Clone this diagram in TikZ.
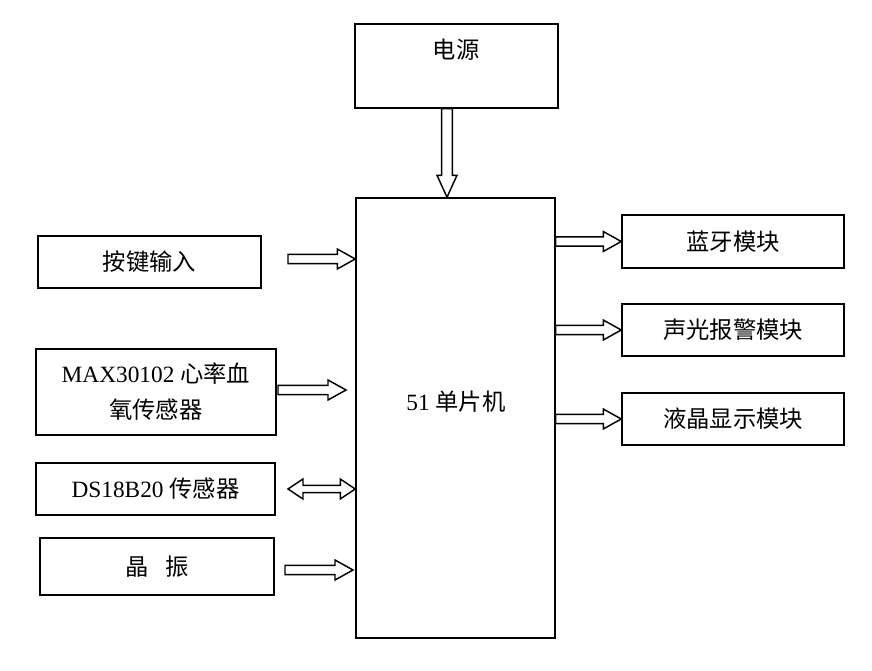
\documentclass[tikz,border=0pt]{standalone}
\usepackage{fontspec}
\setmainfont{Liberation Serif}
\newfontfamily\cjk{Noto Sans CJK SC}
\usetikzlibrary{calc}
\newcommand\rarrow[2]{\draw[blk] let \p1=(#1), \p2=(#2) in (\x1,\y1+3.4pt) -- (\x2-13.5pt,\y1+3.4pt) -- (\x2-13.5pt,\y1+7.5pt) -- (\x2,\y1) -- (\x2-13.5pt,\y1-7.5pt) -- (\x2-13.5pt,\y1-3.4pt) -- (\x1,\y1-3.4pt) -- cycle;}
\newcommand\darrow[2]{\draw[blk] let \p1=(#1), \p2=(#2) in (\x1-4.1pt,\y1) -- (\x1-4.1pt,\y2+16.5pt) -- (\x1-7.5pt,\y2+16.5pt) -- (\x1,\y2) -- (\x1+7.5pt,\y2+16.5pt) -- (\x1+4.1pt,\y2+16.5pt) -- (\x1+4.1pt,\y1) -- cycle;}
\newcommand\lrarrow[2]{\draw[blk] let \p1=(#1), \p2=(#2) in (\x1,\y1) -- (\x1+11.25pt,\y1+7.5pt) -- (\x1+11.25pt,\y1+2.7pt) -- (\x2-11.25pt,\y1+2.7pt) -- (\x2-11.25pt,\y1+7.5pt) -- (\x2,\y1) -- (\x2-11.25pt,\y1-7.5pt) -- (\x2-11.25pt,\y1-2.7pt) -- (\x1+11.25pt,\y1-2.7pt) -- (\x1+11.25pt,\y1-7.5pt) -- cycle;}
\begin{document}
\begin{tikzpicture}[x=0.75pt,y=-0.75pt, line width=1.1pt,
  box/.style={draw, rectangle, inner sep=0pt, font=\fontsize{17.5}{27}\selectfont, align=center},
  lbl/.style={font=\fontsize{17.5}{27}\selectfont, inner sep=0pt, align=center},
  blk/.style={draw, fill=white, line width=1.1pt, line join=miter}]
\useasboundingbox (0,0) rectangle (872,671);
\fill[white] (0,0) rectangle (872,671);
% boxes
\node[box, minimum width=152.25pt, minimum height=63pt] (pwr) at (456.5,66) {};
\node[lbl] (tpwr) at (456,50) {\cjk 电源};
\node[box, minimum width=149.25pt, minimum height=330pt] (mcu) at (455.5,418) {};
\node[lbl] (tmcu) at (456,402) {51 {\cjk 单片机}};
\node[box, minimum width=167.25pt, minimum height=39pt] (key) at (149.5,262) {\cjk 按键输入};
\node[box, minimum width=180pt, minimum height=64.5pt] (max) at (156,392) {MAX30102 {\cjk 心率血}\\{\cjk 氧传感器}};
\node[box, minimum width=179.25pt, minimum height=39pt] (ds) at (155.5,489) {DS18B20 {\cjk 传感器}};
\node[box, minimum width=175.5pt, minimum height=42.75pt] (xtal) at (157,566.5) {{\cjk 晶}\hspace{0.7em}{\cjk 振}};
\node[box, minimum width=166.5pt, minimum height=39.75pt] (bt) at (733,241.5) {\cjk 蓝牙模块};
\node[box, minimum width=166.5pt, minimum height=39pt] (alarm) at (733,330) {\cjk 声光报警模块};
\node[box, minimum width=166.5pt, minimum height=39pt] (lcd) at (733,419) {\cjk 液晶显示模块};
% arrow anchors
\coordinate (pa) at ($(pwr.south)+(-9.5,0)$);
\coordinate (pb) at (pa |- mcu.north);
\coordinate (ka) at (288,259);
\coordinate (kb) at (ka -| mcu.west);
\coordinate (ma) at (278,390);
\coordinate (mb) at (346,390);
\coordinate (da) at (288,489);
\coordinate (db) at (da -| mcu.west);
\coordinate (xa) at (285,570);
\coordinate (xb) at (353,570);
\coordinate (ba) at (mcu.east |- bt.west);
\coordinate (aa) at (mcu.east |- alarm.west);
\coordinate (la) at (mcu.east |- lcd.west);
% block arrows
\darrow{pa}{pb}
\rarrow{ka}{kb}
\rarrow{ma}{mb}
\lrarrow{da}{db}
\rarrow{xa}{xb}
\rarrow{ba}{bt.west}
\rarrow{aa}{alarm.west}
\rarrow{la}{lcd.west}
\end{tikzpicture}
\end{document}
